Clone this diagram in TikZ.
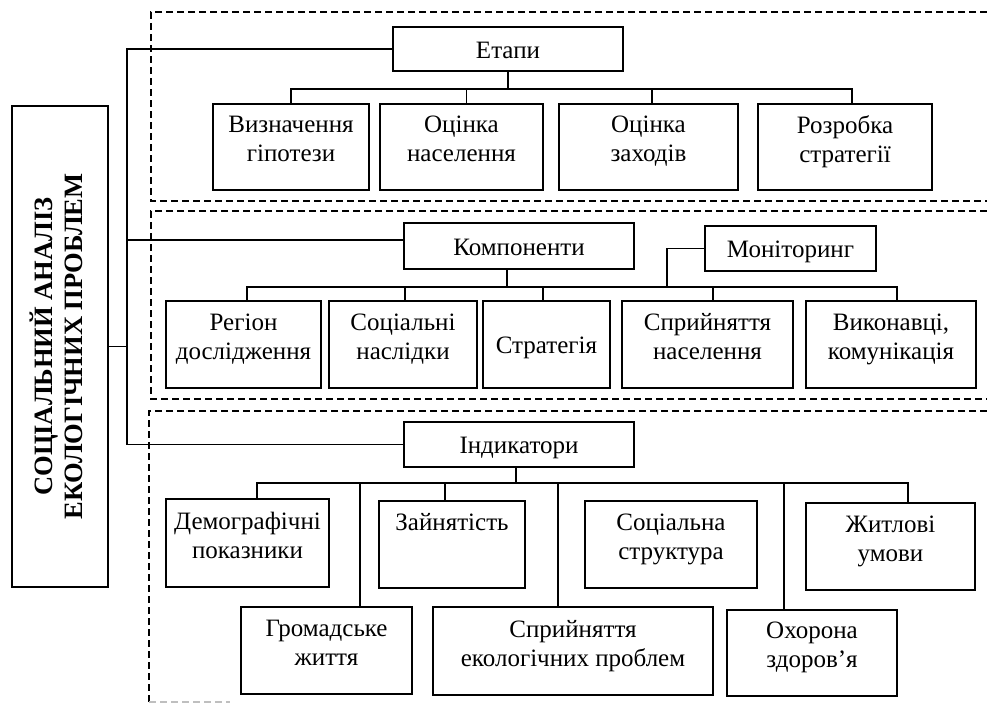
\documentclass[tikz,border=0pt]{standalone}
\usepackage{fontspec}
\setmainfont{Liberation Serif}
\begin{document}
\begin{tikzpicture}[x=1pt,y=-1pt,
  ln/.style={line width=1.5pt},
  dsh/.style={line width=1.3pt, dash pattern=on 7pt off 4pt},
  boxbase/.style={draw, line width=1.6pt, align=center, inner sep=0pt,
    font=\fontsize{25}{29}\selectfont},
  box/.style={boxbase,
    execute at begin node={\rule{0pt}{22pt}},
    execute at end node={\rule[-16pt]{0pt}{0pt}}},
  boxone/.style={boxbase,
    execute at begin node={\rule{0pt}{25pt}},
    execute at end node={\rule[-7pt]{0pt}{0pt}}}]
\useasboundingbox (0,0) rectangle (987,704);

% dashed regions
\draw[dsh] (987,12) -- (151,12) -- (151,201) -- (987,201);
\draw[dsh] (987,211) -- (151,211) -- (151,399) -- (987,399);
\draw[dsh] (987,411) -- (149,411) -- (149,704);
\draw[dsh, black!25] (149,702) -- (230,702);

% title
\node[draw, line width=1.6pt, minimum width=481pt, minimum height=96pt, rotate=90,
  align=center, inner sep=0pt, font=\bfseries\fontsize{26.5}{30}\selectfont,
  execute at end node={\rule[-8pt]{0pt}{0pt}}]
  (title) at (60,346.5) {СОЦІАЛЬНИЙ АНАЛІЗ\\ЕКОЛОГІЧНИХ ПРОБЛЕМ};

% level 1
\node[boxone, minimum width=230pt, minimum height=44pt] (etapy) at (508,49) {Етапи};
\node[boxone, minimum width=230pt, minimum height=46pt] (komp) at (519,246) {Компоненти};
\node[boxone, minimum width=171pt, minimum height=45pt] (mon) at (790.5,248.5) {Моніторинг};
\node[boxone, minimum width=230pt, minimum height=45pt] (indyk) at (519,444.5) {Індикатори};

% row 1
\node[box, minimum width=156pt, minimum height=86pt] (v1) at (291,147) {Визначення\\гіпотези};
\node[box, minimum width=163pt, minimum height=86pt] (v2) at (461.5,147) {Оцінка\\населення};
\node[box, minimum width=179pt, minimum height=86pt] (v3) at (648.5,147) {Оцінка\\заходів};
\node[box, minimum width=174pt, minimum height=86pt] (v4) at (845,147) {Розробка\\стратегії};

% row 2
\node[box, minimum width=155pt, minimum height=87pt] (r1) at (243.5,344.5) {Регіон\\дослідження};
\node[box, minimum width=148pt, minimum height=87pt] (r2) at (403,344.5) {Соціальні\\наслідки};
\node[boxone, minimum width=127pt, minimum height=87pt] (r3) at (546.5,344.5) {Стратегія};
\node[box, minimum width=171pt, minimum height=87pt] (r4) at (707.5,344.5) {Сприйняття\\населення};
\node[box, minimum width=170pt, minimum height=87pt] (r5) at (891,344.5) {Виконавці,\\комунікація};

% row 3
\node[box, minimum width=163pt, minimum height=88pt] (d1) at (247.5,543) {Демографічні\\показники};
\node[box, minimum width=146pt, minimum height=87pt] (d2) at (452,544.5) {Зайнятість\\\mbox{}};
\node[box, minimum width=172pt, minimum height=87pt] (d3) at (671,544.5) {Соціальна\\структура};
\node[box, minimum width=169pt, minimum height=87pt] (d4) at (890.5,546.5) {Житлові\\умови};
\node[box, minimum width=171pt, minimum height=87pt] (e1) at (326.5,650.5) {Громадське\\життя};
\node[box, minimum width=280pt, minimum height=88pt] (e2) at (573,651) {Сприйняття\\екологічних проблем};
\node[box, minimum width=170pt, minimum height=86pt] (e3) at (812,653) {Охорона\\здоров’я};

% spine
\coordinate (sp) at (127,0);
\draw[ln] (etapy.west) -| (indyk.west -| sp) -- (indyk.west);
\draw[ln] ([yshift=6pt]komp.west) -- ([yshift=6pt]komp.west -| sp);
\draw[ln] (title.south) -- (title.south -| sp);

% bus 1
\coordinate (b1) at (0,89);
\coordinate (t11) at (v1.north);
\coordinate (t12) at ([xshift=5pt]v2.north);
\coordinate (t13) at ([xshift=3.5pt]v3.north);
\coordinate (t14) at ([xshift=7pt]v4.north);
\draw[ln] (etapy.south) -- (etapy.south |- b1);
\draw[ln] (t11) |- (t14 |- b1) -- (t14);
\draw[ln] (t12) -- (t12 |- b1);
\draw[ln] (t13) -- (t13 |- b1);

% bus 2
\coordinate (b2) at (0,287);
\coordinate (k0) at ([xshift=-12pt]komp.south);
\coordinate (t21) at ([xshift=3.5pt]r1.north);
\coordinate (t22) at ([xshift=2pt]r2.north);
\coordinate (t23) at ([xshift=-3.5pt]r3.north);
\coordinate (t24) at ([xshift=5.5pt]r4.north);
\coordinate (t25) at ([xshift=6pt]r5.north);
\coordinate (mx) at (667,0);
\draw[ln] (k0) -- (k0 |- b2);
\draw[ln] (t21) |- (t25 |- b2) -- (t25);
\draw[ln] (t22) -- (t22 |- b2);
\draw[ln] (t23) -- (t23 |- b2);
\draw[ln] (t24) -- (t24 |- b2);
\draw[ln] (mon.west) -| (mx |- b2);

% bus 3
\coordinate (b3) at (0,483);
\coordinate (i0) at ([xshift=-3pt]indyk.south);
\coordinate (t31) at ([xshift=9.5pt]d1.north);
\coordinate (t32) at ([xshift=33.5pt]e1.north);
\coordinate (t33) at ([xshift=-7pt]d2.north);
\coordinate (t34) at ([xshift=-15pt]e2.north);
\coordinate (t35) at ([xshift=-28pt]e3.north);
\coordinate (t36) at ([xshift=17.5pt]d4.north);
\draw[ln] (i0) -- (i0 |- b3);
\draw[ln] (t31) |- (t36 |- b3) -- (t36);
\draw[ln] (t32) -- (t32 |- b3);
\draw[ln] (t33) -- (t33 |- b3);
\draw[ln] (t34) -- (t34 |- b3);
\draw[ln] (t35) -- (t35 |- b3);
\end{tikzpicture}
\end{document}
